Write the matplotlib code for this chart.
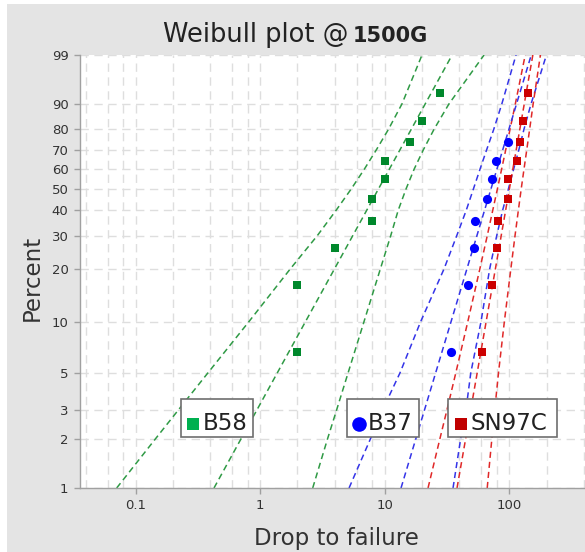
import numpy as np
import matplotlib
matplotlib.use("Agg")
import matplotlib.pyplot as plt
from matplotlib.lines import Line2D
from matplotlib.patches import Rectangle
from matplotlib.ticker import FixedLocator, NullFormatter, FixedFormatter, NullLocator

plt.rcParams['font.family'] = ['DejaVu Sans']

# ---------------- data ----------------
# plotting positions (percent)
pct_points = [6.7, 16.3, 26.0, 35.6, 45.2, 54.8, 64.4, 74.0, 83.7, 93.3]

b58_drops = [2, 2, 4, 8, 8, 10, 10, 16, 20, 28]
b37_drops = [34.3, 47.2, 52.1, 53.4, 66.7, 73.5, 78.2, 99]
sn97c_drops = [60.7, 73.5, 79.7, 81.6, 98, 98, 115, 122, 130, 142]

# percent levels at which the curved confidence bounds were read
bound_pct = [1, 2, 3, 5, 10, 20, 30, 40, 50, 60, 70, 80, 90, 99]
b58_lower = [0.0706, 0.145, 0.222, 0.382, 0.811, 1.75, 2.88, 4.08, 5.41, 6.89, 8.6, 10.76, 13.8, 20.0]
b58_upper = [2.65, 3.49, 4.13, 5.10, 6.83, 9.26, 11.21, 12.87, 14.9, 17.3, 20.5, 24.98, 32.9, 63.0]
b37_lower = [5.19, 7.72, 9.67, 13.32, 19.46, 30.06, 38.0, 45.3, 51.8, 58.5, 66.1, 75.4, 87.5, 113.8]
b37_upper = [35.5, 40.9, 45.1, 49.3, 59.5, 69.9, 79.6, 88.8, 98.9, 108.9, 119.9, 131.8, 150.2, 199.7]
sn97c_lower = [22.36, 27.86, 31.77, 37.38, 46.59, 58.29, 66.83, 73.97, 80.7, 87.21, 94.08, 101.9, 112.3, 134.9]
sn97c_upper = [66.8, 72.8, 76.8, 82.3, 91.66, 103.4, 111.7, 118.8, 125.3, 131.9, 138.8, 146.4, 156.2, 178.7]

# fitted (straight) lines: x at 1 % and at 99 %
line_pct = [1, 99]
b58_fit = [0.427, 34.9]
b37_fit = [13.57, 150.8]
sn97c_fit = [38.22, 155.3]

y_ticks = [1, 2, 3, 5, 10, 20, 30, 40, 50, 60, 70, 80, 90, 99]
x_major = [0.1, 1, 10, 100]
x_major_labels = ['0.1', '1', '10', '100']
x_minor = [0.04, 0.06, 0.08, 0.2, 0.4, 0.6, 0.8, 2, 4, 6, 8, 20, 40, 60, 80, 200, 400]

# ---------------- figure ----------------
W, H = 585, 552
fig = plt.figure(figsize=(W / 100, H / 100), dpi=100, facecolor='#e4e4e4')
fig.add_artist(Rectangle((0, 0), 7 / W, 1, transform=fig.transFigure,
                         facecolor='white', edgecolor='none', zorder=-5))
fig.add_artist(Rectangle((0, 1 - 4 / H), 1, 4 / H, transform=fig.transFigure,
                         facecolor='white', edgecolor='none', zorder=-5))

ax = fig.add_axes([79.5 / W, 64 / H, 510.5 / W, 433 / H])
ax.set_facecolor('white')


def fwd(p):
    p = np.asarray(p, dtype=float)
    with np.errstate(all='ignore'):
        q = np.clip(p / 100.0, 1e-12, 1 - 1e-12)
        return np.log(-np.log(1 - q))


def inv(z):
    z = np.asarray(z, dtype=float)
    with np.errstate(all='ignore'):
        return 100.0 * (1 - np.exp(-np.exp(z)))


ax.set_xscale('log')
ax.set_yscale('function', functions=(fwd, inv))
ax.set_xlim(0.0355, 447)
ax.set_ylim(1, 99)

ax.yaxis.set_major_locator(FixedLocator(y_ticks))
ax.yaxis.set_major_formatter(FixedFormatter([str(v) for v in y_ticks]))
ax.yaxis.set_minor_locator(NullLocator())
ax.xaxis.set_major_locator(FixedLocator(x_major))
ax.xaxis.set_major_formatter(FixedFormatter(x_major_labels))
ax.xaxis.set_minor_locator(FixedLocator(x_minor))
ax.xaxis.set_minor_formatter(NullFormatter())

grid_kw = dict(color='#dedede', linestyle=(0, (6, 4)), linewidth=1.0)
ax.grid(True, which='both', axis='x', **grid_kw)
ax.grid(True, which='major', axis='y', **grid_kw)
ax.set_axisbelow(True)

ax.tick_params(axis='both', which='major', length=4, width=1, color='#a0a0a0',
               labelsize=9.5, labelcolor='#333333', pad=4)
ax.tick_params(axis='x', which='minor', length=0)
for s in ('top', 'right'):
    ax.spines[s].set_visible(False)
for s in ('left', 'bottom'):
    ax.spines[s].set_color('#a0a0a0')
    ax.spines[s].set_linewidth(1.0)

# ---------------- series ----------------
green_line = '#2f9a45'
blue_line = '#3434e8'
red_line = '#e02828'
dash = (0, (4, 2.6))
lw = 1.1

for xs, col in ((b58_lower, green_line), (b58_upper, green_line),
                (b37_lower, blue_line), (b37_upper, blue_line),
                (sn97c_lower, red_line), (sn97c_upper, red_line)):
    ax.plot(xs, bound_pct, color=col, ls=dash, lw=lw)
for xs, col in ((b58_fit, green_line), (b37_fit, blue_line), (sn97c_fit, red_line)):
    ax.plot(xs, line_pct, color=col, ls=dash, lw=lw)

ax.plot(b58_drops, pct_points[:len(b58_drops)], ls='none', marker='s', ms=6.4,
        mew=0, color='#00882c', zorder=4)
ax.plot(b37_drops, pct_points[:len(b37_drops)], ls='none', marker='o', ms=6.6,
        mew=0, color='#0000ff', zorder=4)
ax.plot(sn97c_drops, pct_points[:len(sn97c_drops)], ls='none', marker='s', ms=6.4,
        mew=0, color='#cc0000', zorder=4)

# ---------------- labels ----------------
def fx(px):
    return px / W


def fy(py):
    return 1 - py / H


t1 = fig.text(fx(163), fy(41.7), 'Weibull plot @', fontsize=18.5, color='#222222',
              ha='left', va='baseline')
fig.canvas.draw()
bb = t1.get_window_extent()
fig.text(bb.x1 / W + 4 / W, fy(41.7), '1500G', fontsize=15, fontweight='bold',
         color='#222222', ha='left', va='baseline')

fig.text(fx(336), fy(545), 'Drop to failure', fontsize=16.5, color='#333333',
         ha='center', va='baseline')
fig.text(fx(32), fy(278), 'Percent', fontsize=16.5, color='#333333',
         ha='center', va='center', rotation=90)

# per-series label boxes
boxes = [
    (180.7, 253.3, 's', '#00b050', 193.3, 'B58', 203),
    (346.7, 419.0, 'o', '#0000ff', 359.2, 'B37', 368),
    (448.3, 556.7, 's', '#c00000', 460.7, 'SN97C', 471),
]
for x0, x1, mk, col, mx, txt, tx in boxes:
    fig.add_artist(Rectangle((fx(x0), fy(437.3)), (x1 - x0) / W, (437.3 - 399) / H,
                             transform=fig.transFigure, facecolor='white',
                             edgecolor='#6e6e6e', linewidth=1.2, zorder=5))
    fig.add_artist(Line2D([fx(mx)], [fy(423.5)], transform=fig.transFigure,
                          marker=mk, ms=10.5 if mk == 'o' else 9.2, mew=0, color=col,
                          ls='none', zorder=6))
    fig.text(fx(tx), fy(430), txt, fontsize=16.5, color='#222222', ha='left',
             va='baseline', zorder=7)

fig.savefig('out.png', dpi=100, facecolor=fig.get_facecolor())
